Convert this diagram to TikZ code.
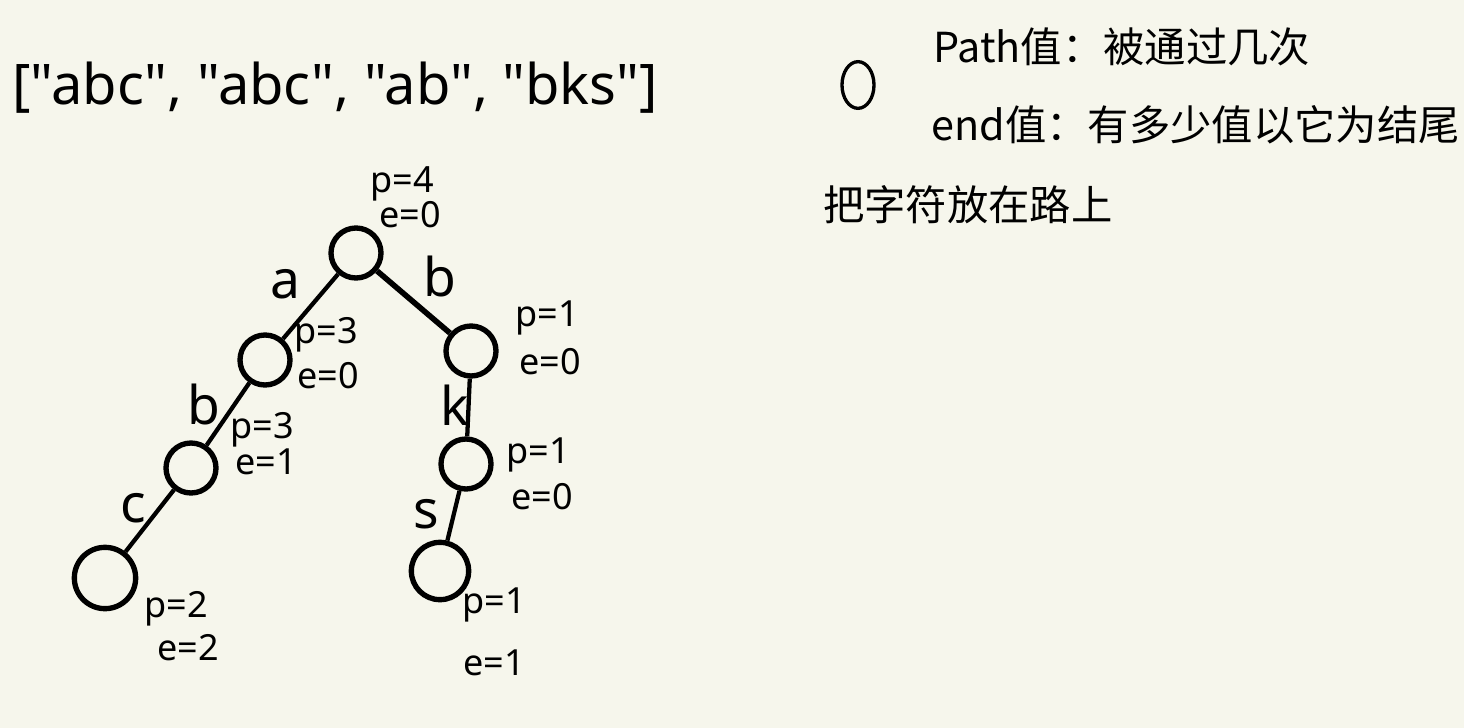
\documentclass[tikz,border=0pt]{standalone}
\usepackage{fontspec}
\setmainfont{Noto Sans CJK SC}
\newfontfamily\latinfont{Noto Sans}
\usetikzlibrary{shapes.geometric}
\definecolor{paper}{RGB}{246,246,236}
\tikzset{
  trienode/.style={circle, draw, line width=4pt, minimum size=37.5pt, inner sep=0pt},
  trieedge/.style={line width=3.2pt},
  edgelabel/.style={font=\latinfont\fontsize{40}{42}\selectfont, inner sep=0.75pt},
  countlabel/.style={font=\latinfont\fontsize{27}{29}\selectfont, inner sep=0.75pt},
  notetext/.style={font=\fontsize{31}{33}\selectfont, anchor=west, inner sep=0.75pt},
}
\begin{document}
\begin{tikzpicture}[x=0.75pt,y=0.75pt,yscale=-1,xscale=1]
    %Background
    \useasboundingbox (0,0) rectangle (1464,728) ;
    \fill [paper] (0,0) rectangle (1464,728) ;

    % Text Node
    \node (words) at (335,88) [font=\latinfont\fontsize{42}{44}\selectfont] {["abc", "abc", "ab", "bks"]};

    %Shape: Ellipse
    \node (legend) at (858,85) [ellipse, draw, line width=2.5pt, minimum width=24pt, minimum height=35pt, inner sep=0pt] {};
    % Text Node
    \node (pathnote) at (932,47) [notetext] {Path值：被通过几次};
    % Text Node
    \node (endnote) at (930,125) [notetext] {end值：有多少值以它为结尾};
    % Text Node
    \node (charnote) at (822,205) [notetext] {把字符放在路上};

    %Shape: Circle
    \node (root) at (356,253) [trienode] {};
    \node (na) at (265,360) [trienode] {};
    \node (nab) at (191,468) [trienode] {};
    \node (nabc) at (105,578) [trienode, minimum size=46pt] {};
    \node (nb) at (471,351) [trienode] {};
    \node (nbk) at (466,464) [trienode] {};
    \node (nbks) at (440,571) [trienode, minimum size=43pt] {};

    %Straight Lines
    \draw [trieedge] (root) -- (na) ;
    \draw [trieedge] (na) -- (nab) ;
    \draw [trieedge] (nab) -- (nabc) ;
    \draw [trieedge, line width=4.2pt] (root) -- (nb) ;
    \draw [trieedge] (nb) -- (nbk) ;
    \draw [trieedge] (nbk) -- (nbks) ;

    % Text Node
    \node (la) at (285,284) [edgelabel] {a};
    \node (lb) at (440,276) [edgelabel] {b};
    \node (lab) at (204,404) [edgelabel] {b};
    \node (lc) at (133,508) [edgelabel] {c};
    \node (lk) at (455,405) [edgelabel] {k};
    \node (ls) at (426,514) [edgelabel] {s};

    % Text Node
    \node (proot) at (402,184) [countlabel] {p=4};
    \node (eroot) at (410,215) [countlabel] {e=0};
    \node (pa) at (326,335) [countlabel] {p=3};
    \node (ea) at (328,376) [countlabel] {e=0};
    \node (pab) at (262,430) [countlabel] {p=3};
    \node (eab) at (266,462) [countlabel] {e=1};
    \node (pabc) at (176,609) [countlabel] {p=2};
    \node (eabc) at (188,648) [countlabel] {e=2};
    \node (pb) at (547,318) [countlabel] {p=1};
    \node (eb) at (550,362) [countlabel] {e=0};
    \node (pbk) at (538,455) [countlabel] {p=1};
    \node (ebk) at (542,497) [countlabel] {e=0};
    \node (pbks) at (494,605) [countlabel] {p=1};
    \node (ebks) at (494,663) [countlabel] {e=1};

\end{tikzpicture}
\end{document}
